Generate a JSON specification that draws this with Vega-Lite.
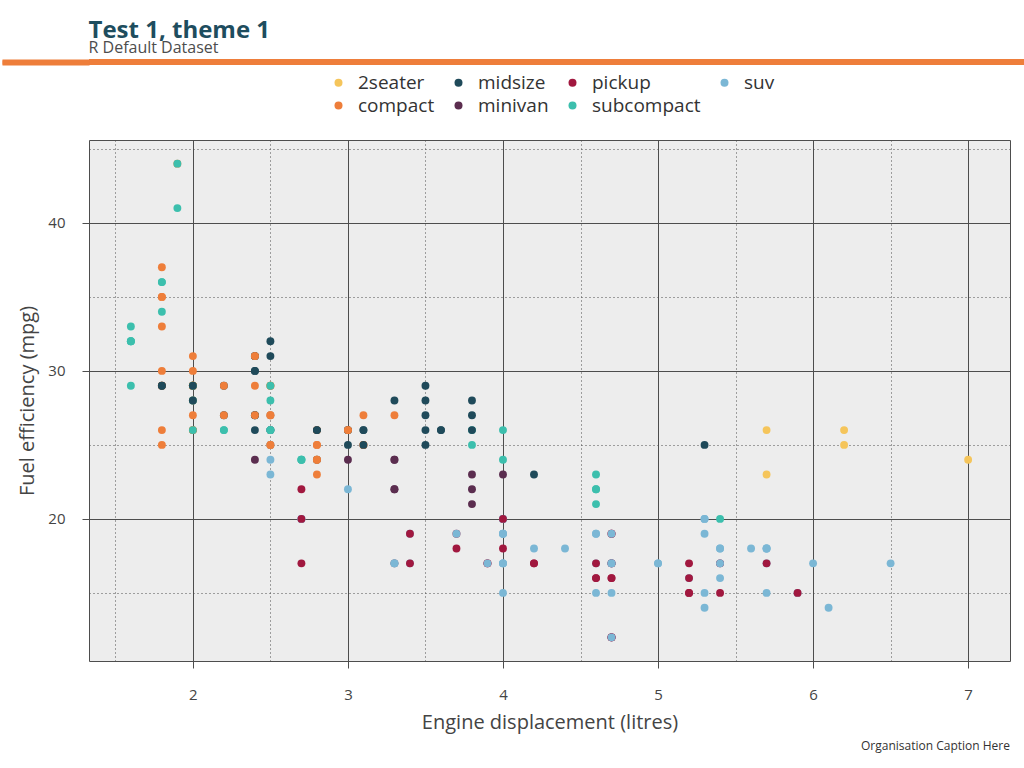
{
  "$schema": "https://vega.github.io/schema/vega-lite/v6.json",
  "background": "white",
  "padding": {"left": 0, "right": 0, "top": 18, "bottom": 6},
  "title": {"text": "Test 1, theme 1", "subtitle": "R Default Dataset", "anchor": "start", "dx": 88, "font": "Open Sans", "fontSize": 24, "fontWeight": "bold", "color": "#1E4D5E", "subtitleFont": "Open Sans", "subtitleFontSize": 16, "subtitleColor": "#4D4D4D", "subtitlePadding": -3, "offset": 3},
  "columns": 1,
  "spacing": 71,
  "datasets": {
    "mpg": [
      {"displ":1.8,"hwy":29,"class":"compact"},{"displ":1.8,"hwy":29,"class":"compact"},{"displ":2.0,"hwy":31,"class":"compact"},{"displ":2.0,"hwy":30,"class":"compact"},{"displ":2.8,"hwy":26,"class":"compact"},{"displ":2.8,"hwy":26,"class":"compact"},{"displ":3.1,"hwy":27,"class":"compact"},
      {"displ":1.8,"hwy":26,"class":"compact"},{"displ":1.8,"hwy":25,"class":"compact"},{"displ":2.0,"hwy":28,"class":"compact"},{"displ":2.0,"hwy":27,"class":"compact"},{"displ":2.8,"hwy":25,"class":"compact"},{"displ":2.8,"hwy":25,"class":"compact"},{"displ":3.1,"hwy":25,"class":"compact"},{"displ":3.1,"hwy":25,"class":"compact"},
      {"displ":2.8,"hwy":24,"class":"midsize"},{"displ":3.1,"hwy":25,"class":"midsize"},{"displ":4.2,"hwy":23,"class":"midsize"},
      {"displ":5.3,"hwy":20,"class":"suv"},{"displ":5.3,"hwy":15,"class":"suv"},{"displ":5.3,"hwy":20,"class":"suv"},{"displ":5.7,"hwy":17,"class":"suv"},{"displ":6.0,"hwy":17,"class":"suv"},
      {"displ":5.7,"hwy":26,"class":"2seater"},{"displ":5.7,"hwy":23,"class":"2seater"},{"displ":6.2,"hwy":26,"class":"2seater"},{"displ":6.2,"hwy":25,"class":"2seater"},{"displ":7.0,"hwy":24,"class":"2seater"},
      {"displ":5.3,"hwy":19,"class":"suv"},{"displ":5.3,"hwy":14,"class":"suv"},{"displ":5.7,"hwy":15,"class":"suv"},{"displ":6.5,"hwy":17,"class":"suv"},
      {"displ":2.4,"hwy":27,"class":"midsize"},{"displ":2.4,"hwy":30,"class":"midsize"},{"displ":3.1,"hwy":26,"class":"midsize"},{"displ":3.5,"hwy":29,"class":"midsize"},{"displ":3.6,"hwy":26,"class":"midsize"},
      {"displ":2.4,"hwy":24,"class":"minivan"},{"displ":3.0,"hwy":24,"class":"minivan"},{"displ":3.3,"hwy":22,"class":"minivan"},{"displ":3.3,"hwy":22,"class":"minivan"},{"displ":3.3,"hwy":24,"class":"minivan"},{"displ":3.3,"hwy":24,"class":"minivan"},{"displ":3.3,"hwy":17,"class":"minivan"},{"displ":3.8,"hwy":22,"class":"minivan"},{"displ":3.8,"hwy":21,"class":"minivan"},{"displ":3.8,"hwy":23,"class":"minivan"},{"displ":4.0,"hwy":23,"class":"minivan"},
      {"displ":3.7,"hwy":19,"class":"pickup"},{"displ":3.7,"hwy":18,"class":"pickup"},{"displ":3.9,"hwy":17,"class":"pickup"},{"displ":3.9,"hwy":17,"class":"pickup"},{"displ":4.7,"hwy":19,"class":"pickup"},{"displ":4.7,"hwy":19,"class":"pickup"},{"displ":4.7,"hwy":12,"class":"pickup"},{"displ":5.2,"hwy":17,"class":"pickup"},{"displ":5.2,"hwy":15,"class":"pickup"},
      {"displ":3.9,"hwy":17,"class":"suv"},{"displ":4.7,"hwy":17,"class":"suv"},{"displ":4.7,"hwy":12,"class":"suv"},{"displ":4.7,"hwy":17,"class":"suv"},{"displ":5.2,"hwy":16,"class":"suv"},{"displ":5.7,"hwy":18,"class":"suv"},{"displ":5.9,"hwy":15,"class":"suv"},
      {"displ":4.7,"hwy":16,"class":"pickup"},{"displ":4.7,"hwy":12,"class":"pickup"},{"displ":4.7,"hwy":17,"class":"pickup"},{"displ":4.7,"hwy":17,"class":"pickup"},{"displ":4.7,"hwy":16,"class":"pickup"},{"displ":4.7,"hwy":12,"class":"pickup"},{"displ":5.2,"hwy":15,"class":"pickup"},{"displ":5.2,"hwy":16,"class":"pickup"},{"displ":5.7,"hwy":17,"class":"pickup"},{"displ":5.9,"hwy":15,"class":"pickup"},
      {"displ":4.6,"hwy":17,"class":"suv"},{"displ":5.4,"hwy":17,"class":"suv"},{"displ":5.4,"hwy":18,"class":"suv"},
      {"displ":4.0,"hwy":17,"class":"suv"},{"displ":4.0,"hwy":19,"class":"suv"},{"displ":4.0,"hwy":17,"class":"suv"},{"displ":4.0,"hwy":19,"class":"suv"},{"displ":4.6,"hwy":19,"class":"suv"},{"displ":5.0,"hwy":17,"class":"suv"},
      {"displ":4.2,"hwy":17,"class":"pickup"},{"displ":4.2,"hwy":17,"class":"pickup"},{"displ":4.6,"hwy":16,"class":"pickup"},{"displ":4.6,"hwy":16,"class":"pickup"},{"displ":4.6,"hwy":17,"class":"pickup"},{"displ":5.4,"hwy":15,"class":"pickup"},{"displ":5.4,"hwy":17,"class":"pickup"},
      {"displ":3.8,"hwy":26,"class":"subcompact"},{"displ":3.8,"hwy":25,"class":"subcompact"},{"displ":4.0,"hwy":26,"class":"subcompact"},{"displ":4.0,"hwy":24,"class":"subcompact"},{"displ":4.6,"hwy":21,"class":"subcompact"},{"displ":4.6,"hwy":22,"class":"subcompact"},{"displ":4.6,"hwy":23,"class":"subcompact"},{"displ":4.6,"hwy":22,"class":"subcompact"},{"displ":5.4,"hwy":20,"class":"subcompact"},
      {"displ":1.6,"hwy":33,"class":"subcompact"},{"displ":1.6,"hwy":32,"class":"subcompact"},{"displ":1.6,"hwy":32,"class":"subcompact"},{"displ":1.6,"hwy":29,"class":"subcompact"},{"displ":1.6,"hwy":32,"class":"subcompact"},{"displ":1.8,"hwy":34,"class":"subcompact"},{"displ":1.8,"hwy":36,"class":"subcompact"},{"displ":1.8,"hwy":36,"class":"subcompact"},{"displ":2.0,"hwy":29,"class":"subcompact"},
      {"displ":2.4,"hwy":26,"class":"midsize"},{"displ":2.4,"hwy":27,"class":"midsize"},{"displ":2.4,"hwy":30,"class":"midsize"},{"displ":2.4,"hwy":31,"class":"midsize"},{"displ":2.5,"hwy":26,"class":"midsize"},{"displ":2.5,"hwy":26,"class":"midsize"},{"displ":3.3,"hwy":28,"class":"midsize"},
      {"displ":2.0,"hwy":26,"class":"subcompact"},{"displ":2.0,"hwy":29,"class":"subcompact"},{"displ":2.0,"hwy":28,"class":"subcompact"},{"displ":2.7,"hwy":24,"class":"subcompact"},{"displ":2.7,"hwy":24,"class":"subcompact"},{"displ":2.7,"hwy":24,"class":"subcompact"},
      {"displ":3.0,"hwy":22,"class":"suv"},{"displ":3.7,"hwy":19,"class":"suv"},{"displ":4.0,"hwy":20,"class":"suv"},{"displ":4.7,"hwy":17,"class":"suv"},{"displ":4.7,"hwy":12,"class":"suv"},{"displ":4.7,"hwy":19,"class":"suv"},{"displ":5.7,"hwy":18,"class":"suv"},{"displ":6.1,"hwy":14,"class":"suv"},
      {"displ":4.0,"hwy":15,"class":"suv"},{"displ":4.2,"hwy":18,"class":"suv"},{"displ":4.4,"hwy":18,"class":"suv"},{"displ":4.6,"hwy":15,"class":"suv"},
      {"displ":5.4,"hwy":17,"class":"suv"},{"displ":5.4,"hwy":16,"class":"suv"},{"displ":5.4,"hwy":18,"class":"suv"},
      {"displ":4.0,"hwy":19,"class":"suv"},{"displ":4.0,"hwy":17,"class":"suv"},{"displ":4.6,"hwy":19,"class":"suv"},{"displ":5.0,"hwy":17,"class":"suv"},
      {"displ":2.4,"hwy":29,"class":"compact"},{"displ":2.4,"hwy":27,"class":"compact"},{"displ":2.5,"hwy":31,"class":"midsize"},{"displ":2.5,"hwy":32,"class":"midsize"},{"displ":3.5,"hwy":27,"class":"midsize"},{"displ":3.5,"hwy":26,"class":"midsize"},
      {"displ":3.0,"hwy":26,"class":"midsize"},{"displ":3.0,"hwy":25,"class":"midsize"},{"displ":3.5,"hwy":25,"class":"midsize"},
      {"displ":3.3,"hwy":17,"class":"suv"},{"displ":3.3,"hwy":17,"class":"suv"},{"displ":4.0,"hwy":20,"class":"suv"},{"displ":5.6,"hwy":18,"class":"suv"},
      {"displ":3.1,"hwy":26,"class":"midsize"},{"displ":3.8,"hwy":26,"class":"midsize"},{"displ":3.8,"hwy":27,"class":"midsize"},{"displ":3.8,"hwy":28,"class":"midsize"},{"displ":5.3,"hwy":25,"class":"midsize"},
      {"displ":2.5,"hwy":25,"class":"suv"},{"displ":2.5,"hwy":24,"class":"suv"},{"displ":2.5,"hwy":27,"class":"suv"},{"displ":2.5,"hwy":25,"class":"suv"},{"displ":2.5,"hwy":26,"class":"suv"},{"displ":2.5,"hwy":23,"class":"suv"},
      {"displ":2.2,"hwy":26,"class":"subcompact"},{"displ":2.2,"hwy":26,"class":"subcompact"},{"displ":2.5,"hwy":26,"class":"subcompact"},{"displ":2.5,"hwy":26,"class":"subcompact"},{"displ":2.5,"hwy":25,"class":"compact"},{"displ":2.5,"hwy":27,"class":"compact"},{"displ":2.5,"hwy":25,"class":"compact"},{"displ":2.5,"hwy":27,"class":"compact"},
      {"displ":2.7,"hwy":20,"class":"suv"},{"displ":2.7,"hwy":20,"class":"suv"},{"displ":3.4,"hwy":19,"class":"suv"},{"displ":3.4,"hwy":17,"class":"suv"},{"displ":4.0,"hwy":20,"class":"suv"},{"displ":4.7,"hwy":17,"class":"suv"},
      {"displ":2.2,"hwy":29,"class":"midsize"},{"displ":2.2,"hwy":27,"class":"midsize"},{"displ":2.4,"hwy":31,"class":"midsize"},{"displ":2.4,"hwy":31,"class":"midsize"},{"displ":3.0,"hwy":26,"class":"midsize"},{"displ":3.0,"hwy":26,"class":"midsize"},{"displ":3.5,"hwy":28,"class":"midsize"},
      {"displ":2.2,"hwy":27,"class":"compact"},{"displ":2.2,"hwy":29,"class":"compact"},{"displ":2.4,"hwy":31,"class":"compact"},{"displ":2.4,"hwy":31,"class":"compact"},{"displ":3.0,"hwy":26,"class":"compact"},{"displ":3.0,"hwy":26,"class":"compact"},{"displ":3.3,"hwy":27,"class":"compact"},
      {"displ":1.8,"hwy":30,"class":"compact"},{"displ":1.8,"hwy":33,"class":"compact"},{"displ":1.8,"hwy":35,"class":"compact"},{"displ":1.8,"hwy":37,"class":"compact"},{"displ":1.8,"hwy":35,"class":"compact"},
      {"displ":4.7,"hwy":15,"class":"suv"},{"displ":5.7,"hwy":18,"class":"suv"},
      {"displ":2.7,"hwy":20,"class":"pickup"},{"displ":2.7,"hwy":17,"class":"pickup"},{"displ":2.7,"hwy":22,"class":"pickup"},{"displ":3.4,"hwy":17,"class":"pickup"},{"displ":3.4,"hwy":19,"class":"pickup"},{"displ":4.0,"hwy":18,"class":"pickup"},{"displ":4.0,"hwy":20,"class":"pickup"},
      {"displ":2.0,"hwy":29,"class":"compact"},{"displ":2.0,"hwy":26,"class":"compact"},{"displ":2.0,"hwy":29,"class":"compact"},{"displ":2.0,"hwy":29,"class":"compact"},{"displ":2.8,"hwy":24,"class":"compact"},
      {"displ":1.9,"hwy":44,"class":"compact"},{"displ":2.0,"hwy":29,"class":"compact"},{"displ":2.0,"hwy":26,"class":"compact"},{"displ":2.0,"hwy":29,"class":"compact"},{"displ":2.0,"hwy":29,"class":"compact"},{"displ":2.5,"hwy":29,"class":"compact"},{"displ":2.5,"hwy":29,"class":"compact"},{"displ":2.8,"hwy":23,"class":"compact"},{"displ":2.8,"hwy":24,"class":"compact"},
      {"displ":1.9,"hwy":44,"class":"subcompact"},{"displ":1.9,"hwy":41,"class":"subcompact"},{"displ":2.0,"hwy":29,"class":"subcompact"},{"displ":2.0,"hwy":26,"class":"subcompact"},{"displ":2.5,"hwy":28,"class":"subcompact"},{"displ":2.5,"hwy":29,"class":"subcompact"},
      {"displ":1.8,"hwy":29,"class":"midsize"},{"displ":1.8,"hwy":29,"class":"midsize"},{"displ":2.0,"hwy":28,"class":"midsize"},{"displ":2.0,"hwy":29,"class":"midsize"},{"displ":2.8,"hwy":26,"class":"midsize"},{"displ":2.8,"hwy":26,"class":"midsize"},{"displ":3.6,"hwy":26,"class":"midsize"}
    ]
  },
  "concat": [
    {
      "width": 936,
      "height": 6,
      "data": {"values": [{}]},
      "mark": {"type": "point", "opacity": 0},
      "encoding": {
        "y": {"datum": 0, "type": "quantitative", "scale": {"domain": [0, 6], "nice": false, "zero": false},
              "axis": {"orient": "left", "values": [1, 2, 3, 4, 5], "labels": false, "domain": false, "grid": false, "title": null, "ticks": true, "tickSize": 87, "tickWidth": 2.2, "tickColor": "#EE7E3B", "tickCap": "butt"}}
      },
      "view": {"fill": "#EE7E3B", "stroke": null}
    },
    {
      "width": 921,
      "height": 521,
      "title": {"text": "Organisation Caption Here", "orient": "bottom", "anchor": "end", "font": "Open Sans", "fontSize": 12, "fontWeight": "normal", "color": "#333333", "offset": 9},
      "view": {"fill": "#EDEDED", "stroke": "#4D4D4D", "strokeWidth": 1},
      "data": {"name": "mpg"},
      "resolve": {"axis": {"x": "independent", "y": "independent"}},
      "layer": [
        {
          "mark": {"type": "point", "opacity": 0},
          "encoding": {
            "x": {"field": "displ", "type": "quantitative", "scale": {"domain": [1.33, 7.27], "nice": false, "zero": false},
                  "axis": {"orient": "bottom", "values": [1.5, 2.5, 3.5, 4.5, 5.5, 6.5], "labels": false, "ticks": false, "domain": false, "title": null, "grid": true, "gridColor": "#4D4D4D", "gridDash": [1, 3], "gridWidth": 1}},
            "y": {"field": "hwy", "type": "quantitative", "scale": {"domain": [10.4, 45.6], "nice": false, "zero": false},
                  "axis": {"orient": "left", "values": [15, 25, 35, 45], "labels": false, "ticks": false, "domain": false, "title": ".", "titleOpacity": 0, "titleFontSize": 18, "titlePadding": 70, "grid": true, "gridColor": "#4D4D4D", "gridDash": [1, 3], "gridWidth": 1}}
          }
        },
        {
          "mark": {"type": "point", "filled": true, "opacity": 1, "size": 62},
          "encoding": {
            "x": {"field": "displ", "type": "quantitative",
                  "axis": {"orient": "bottom", "values": [2, 3, 4, 5, 6, 7], "title": "Engine displacement (litres)", "grid": true, "gridColor": "#4D4D4D", "gridWidth": 1, "domain": false, "ticks": true, "tickSize": 7, "tickColor": "#4D4D4D", "labelPadding": 19, "labelFontSize": 15, "labelColor": "#444444", "labelFont": "Open Sans", "titleFont": "Open Sans", "titleFontSize": 20, "titleFontWeight": "normal", "titleColor": "#444444", "titlePadding": 10}},
            "y": {"field": "hwy", "type": "quantitative",
                  "axis": {"orient": "left", "values": [20, 30, 40], "title": "Fuel efficiency (mpg)", "grid": true, "gridColor": "#4D4D4D", "gridWidth": 1, "domain": false, "ticks": true, "tickSize": 7, "tickColor": "#4D4D4D", "labelPadding": 17, "labelFontSize": 15, "labelColor": "#444444", "labelFont": "Open Sans", "titleFont": "Open Sans", "titleFontSize": 20, "titleFontWeight": "normal", "titleColor": "#444444", "titlePadding": 10}},
            "color": {"field": "class", "type": "nominal",
                      "scale": {"domain": ["2seater", "midsize", "pickup", "suv", "compact", "minivan", "subcompact"],
                                "range": ["#F5C55B", "#1F4A5A", "#A1183F", "#7BB7D5", "#EE7E3A", "#5B2D4F", "#3CBFAD"]},
                      "legend": {"title": null, "orient": "none", "legendX": 240, "legendY": 14, "direction": "horizontal", "columns": 4, "columnPadding": 14, "rowPadding": 3, "symbolType": "circle", "symbolSize": 64, "symbolStrokeWidth": 0, "symbolOpacity": 1, "labelFont": "Open Sans", "labelFontSize": 19, "labelColor": "#333333", "labelOffset": 10}}
          }
        }
      ]
    }
  ]
}
